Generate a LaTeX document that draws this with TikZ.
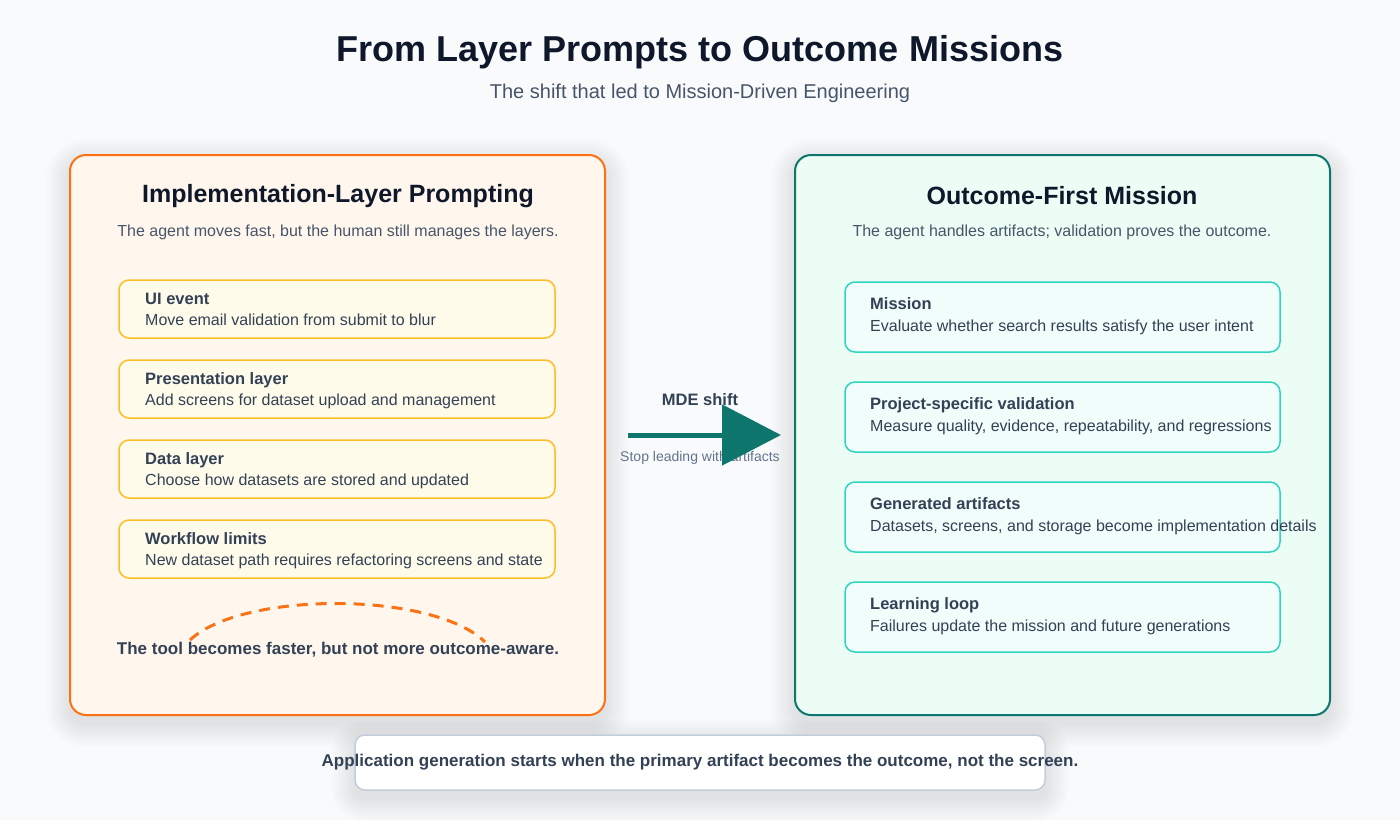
\documentclass[tikz,border=0pt]{standalone}
\usepackage{fontspec}
\setmainfont{Liberation Sans}
\usetikzlibrary{arrows.meta}
\pgfdeclarelayer{bottomlayer}
\pgfdeclarelayer{shadowlayer}
\pgfsetlayers{bottomlayer,shadowlayer,main}
\definecolor{bg}{HTML}{F8FAFC}
\definecolor{ink}{HTML}{0F172A}
\definecolor{slate}{HTML}{475569}
\definecolor{dark}{HTML}{334155}
\definecolor{muted}{HTML}{64748B}
\definecolor{orangeB}{HTML}{F97316}
\definecolor{orangeF}{HTML}{FFF7ED}
\definecolor{amberB}{HTML}{FBBF24}
\definecolor{amberF}{HTML}{FFFBEB}
\definecolor{tealB}{HTML}{0F766E}
\definecolor{tealF}{HTML}{ECFDF5}
\definecolor{mintB}{HTML}{2DD4BF}
\definecolor{mintF}{HTML}{F0FDFA}
\definecolor{grayB}{HTML}{C3CEDC}
\definecolor{shade}{HTML}{1E293B}
\tikzset{
  fs/.style={font=\fontsize{#1}{#1}\selectfont},
  panelbox/.style={rounded corners=16pt, line width=2pt, minimum width=535pt, minimum height=560pt},
  leftitem/.style={rounded corners=10pt, line width=1.5pt, draw=amberB, fill=amberF, minimum width=436pt, minimum height=58pt},
  rightitem/.style={rounded corners=10pt, line width=1.5pt, draw=mintB, fill=mintF, minimum width=435pt, minimum height=70pt},
  itemtitle/.style={anchor=base west, text=dark, font=\fontsize{16.5}{16.5}\selectfont\bfseries, inner sep=0pt},
  itemtext/.style={anchor=base west, text=dark, font=\fontsize{16}{16}\selectfont, inner sep=0pt},
  shadowstep/.style={fill=shade, opacity=0.008},
}
\begin{document}
\begin{tikzpicture}[x=1pt,y=-1pt]
\begin{pgfonlayer}{bottomlayer}
\fill[bg] (0,0) rectangle (1400,820);
\end{pgfonlayer}
\useasboundingbox (0,0) rectangle (1400,820);

% title
\node[text=ink, font=\fontsize{36}{36}\selectfont\bfseries] (title) at (700,52) {From Layer Prompts to Outcome Missions};
\node[text=slate, fs=20] (subtitle) at (700,93) {The shift that led to Mission-Driven Engineering};

% panels
\node[panelbox, draw=orangeB, fill=orangeF] (leftpanel) at (337.5,435) {};
\node[panelbox, draw=tealB, fill=tealF] (rightpanel) at (1062.5,435) {};

% left panel content
\node[text=ink, font=\fontsize{25}{25}\selectfont\bfseries] (ltitle) at (338,196) {Implementation-Layer Prompting};
\node[text=slate, fs=16] (lsub) at (338,232) {The agent moves fast, but the human still manages the layers.};

\node[leftitem] (l1) at (337,309) {};
\node[leftitem] (l2) at (337,389) {};
\node[leftitem] (l3) at (337,469) {};
\node[leftitem] (l4) at (337,549) {};
\node[itemtitle] (l1t) at (145,304.5) {UI event};
\node[itemtext] (l1d) at (145,325.5) {Move email validation from submit to blur};
\node[itemtitle] (l2t) at (145,384.5) {Presentation layer};
\node[itemtext] (l2d) at (145,405.5) {Add screens for dataset upload and management};
\node[itemtitle] (l3t) at (145,464.5) {Data layer};
\node[itemtext] (l3d) at (145,485.5) {Choose how datasets are stored and updated};
\node[itemtitle] (l4t) at (145,544.5) {Workflow limits};
\node[itemtext] (l4d) at (145,565.5) {New dataset path requires refactoring screens and state};

\coordinate (arcA) at (190,640);
\coordinate (arcB) at (485,642);
\draw[orangeB, line width=3pt, dash pattern=on 11pt off 8pt] (arcA) .. controls (242,591) and (433,591) .. (arcB);
\node[text=dark, font=\fontsize{17}{17}\selectfont\bfseries] (lnote) at (338,650) {The tool becomes faster, but not more outcome-aware.};

% middle
\node[text=dark, font=\fontsize{16.5}{16.5}\selectfont\bfseries] (mde) at (700,400) {MDE shift};
\node[text=muted, fs=14] (stop) at (700,458) {Stop leading with artifacts};
\coordinate (arrS) at (628,435);
\coordinate (arrE) at (781,435);
\draw[tealB, line width=5pt, -{Triangle[length=59pt,width=60pt]}] (arrS) -- (arrE);

% right panel content
\node[text=ink, font=\fontsize{25}{25}\selectfont\bfseries] (rtitle) at (1062,196) {Outcome-First Mission};
\node[text=slate, fs=16] (rsub) at (1062,232) {The agent handles artifacts; validation proves the outcome.};

\node[rightitem] (r1) at (1062.5,317) {};
\node[rightitem] (r2) at (1062.5,417) {};
\node[rightitem] (r3) at (1062.5,517) {};
\node[rightitem] (r4) at (1062.5,617) {};
\node[itemtitle] (r1t) at (870,309.5) {Mission};
\node[itemtext] (r1d) at (870,331.5) {Evaluate whether search results satisfy the user intent};
\node[itemtitle] (r2t) at (870,409.5) {Project-specific validation};
\node[itemtext] (r2d) at (870,431.5) {Measure quality, evidence, repeatability, and regressions};
\node[itemtitle] (r3t) at (870,509.5) {Generated artifacts};
\node[itemtext] (r3d) at (870,531.5) {Datasets, screens, and storage become implementation details};
\node[itemtitle] (r4t) at (870,609.5) {Learning loop};
\node[itemtext] (r4d) at (870,631.5) {Failures update the mission and future generations};

% bottom
\node[rounded corners=10pt, line width=1.5pt, draw=grayB, fill=white, minimum width=690pt, minimum height=55pt] (bottom) at (700,762.5) {};
\node[text=dark, font=\fontsize{17}{17}\selectfont\bfseries] (btext) at (700,762) {Application generation starts when the primary artifact becomes the outcome, not the screen.};

% soft shadows
\begin{pgfonlayer}{shadowlayer}
\foreach \p/\rc in {leftpanel/16, rightpanel/16, bottom/10}{
  \foreach \s [evaluate=\s as \r using \rc+\s] in {1,3,...,23}{
    \fill[shadowstep, rounded corners=\r pt] ([shift={(-\s,-\s+8)}]\p.north west) rectangle ([shift={(\s,\s+8)}]\p.south east);
  }
}
\end{pgfonlayer}
\end{tikzpicture}
\end{document}
